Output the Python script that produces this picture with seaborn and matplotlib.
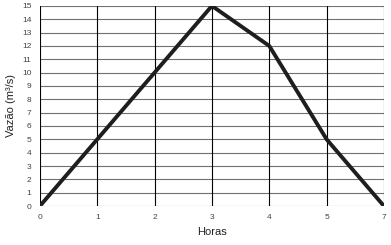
import matplotlib
matplotlib.use("Agg")
import matplotlib.pyplot as plt
import seaborn as sns
import pandas as pd

hour_labels = ["0", "1", "2", "3", "4", "5", "7"]
flow = [0, 5, 10, 15, 12, 5, 0]
y_ticks = list(range(0, 16))

sns.set_style("white")
plt.rcParams['font.family'] = ['Liberation Sans', 'DejaVu Sans']

df = pd.DataFrame({"pos": range(len(hour_labels)), "flow": flow})

fig = plt.figure(figsize=(3.91, 2.45), dpi=100)
ax = fig.add_axes([0.102, 0.159, 0.880, 0.817])

for yv in y_ticks:
    ax.axhline(yv, color="#707070", lw=0.8, zorder=1)
for xv in range(len(hour_labels)):
    ax.axvline(xv, color="#000000", lw=0.8, zorder=1)

sns.lineplot(data=df, x="pos", y="flow", ax=ax, color="#1e1e1e", lw=2.8, zorder=3)

ax.set_xlim(0, len(hour_labels) - 1)
ax.set_ylim(0, 15)
ax.set_xticks(range(len(hour_labels)))
ax.set_xticklabels(hour_labels)
ax.set_yticks(y_ticks)
ax.tick_params(axis="both", labelsize=6, colors="#444444", length=0, pad=6)
ax.set_xlabel("Horas", fontsize=8, color="#222222", labelpad=4)
ax.set_ylabel("Vazão (m³/s)", fontsize=8, color="#222222", labelpad=4)
for s in ax.spines.values():
    s.set_visible(False)

fig.savefig("out.png", dpi=100)
